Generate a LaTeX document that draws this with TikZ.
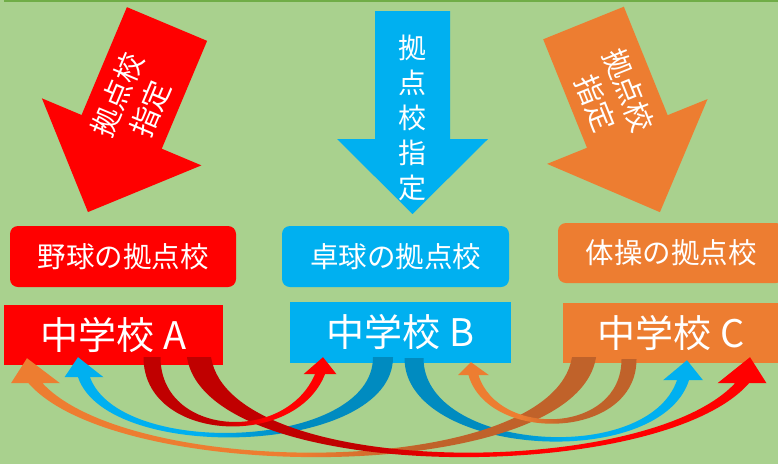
\documentclass[tikz,border=0pt]{standalone}
\usepackage{fontspec}
\setmainfont{Noto Sans CJK JP}
\usepackage{tikz}
\usetikzlibrary{calc}

\definecolor{bg}{HTML}{A9D18E}
\definecolor{topline}{HTML}{70AD47}
\definecolor{redA}{HTML}{FF0000}
\definecolor{redAdark}{HTML}{C00000}
\definecolor{blueB}{HTML}{00B0F0}
\definecolor{blueBdark}{HTML}{008BC0}
\definecolor{orangeC}{HTML}{ED7D31}
\definecolor{orangeCdark}{HTML}{C0622A}

% tail, tail half width, neck, neck half width, control offsets, tip, head half span
\newcommand{\bentpath}[8]{($(#1)-(#2,0)$) .. controls ($(#1)+(#5)-(#2,-3)$) and ($(#3)+(#6)+(#4,3)$) .. ($(#3)+(#4,0)$)
 -- ($(#3)+(#8,0)$) -- (#7) -- ($(#3)-(#8,0)$) -- ($(#3)-(#4,0)$)
 .. controls ($(#3)+(#6)-(#4,3)$) and ($(#1)+(#5)+(#2,-3)$) .. ($(#1)+(#2,0)$) -- cycle}
% left colour, right colour, blend from x to x, path
\newcommand{\bentarrow}[5]{%
\begin{scope}
\clip #5;
\fill[#1] (-10,300) rectangle (#3,470);
\shade[left color=#1,right color=#2] (#3,300) rectangle (#4,470);
\fill[#2] (#4,300) rectangle (790,470);
\end{scope}}
% shaft half width, head half width, shaft length, total length
\newcommand{\pinshape}[4]{(-#1,0) -- (#1,0) -- (#1,#3) -- (#2,#3) -- (0,#4) -- (-#2,#3) -- (-#1,#3) -- cycle}

\begin{document}
\begin{tikzpicture}[x=1pt,y=-1pt,
tagbox/.style={rounded corners=8pt,text=white,minimum width=226pt,minimum height=61pt,
font=\fontsize{28.5}{34}\selectfont},
school/.style={text=white,minimum width=219pt,minimum height=60pt,
font=\fontsize{38}{44}\selectfont},
pintext/.style={text=white,align=center,font=\fontsize{29}{36}\selectfont}]

\useasboundingbox (0,0) rectangle (778,464);
\clip (0,0) rectangle (778,464);
\fill[bg] (0,0) rectangle (778,464);
\fill[topline] (4,0) rectangle (778,2);

% Pins
\fill[redA,shift={(167,24)},rotate=-22.8] \pinshape{43.5}{86.5}{117}{204};
\fill[blueB,shift={(412.5,11)}] \pinshape{37.5}{75.5}{128}{203};
\fill[orangeC,shift={(583.5,23)},rotate=22] \pinshape{43.5}{86.5}{117}{204};
\node[pintext,rotate=67.2] (pinA) at (134,102) {拠点校\\指定};
\node[pintext,font=\fontsize{28}{35}\selectfont] (pinB) at (412.5,117.5) {拠\\点\\校\\指\\定};
\node[pintext,rotate=-68] (pinC) at (612,97) {拠点校\\指定};

% Nodes
\node[tagbox,fill=redA] (labA) at (123,256.5) {野球の拠点校};
\node[tagbox,fill=blueB,minimum width=227pt] (labB) at (395.5,256.5) {卓球の拠点校};
\node[tagbox,fill=orangeC,minimum height=60pt] (labC) at (671,253) {体操の拠点校};

\node[school,fill=redA] (schA) at (113.5,335) {中学校 A};
\node[school,fill=blueB,minimum width=221pt,minimum height=61pt] (schB) at (400.5,332.5) {中学校 B};
\node[school,fill=orangeC,minimum width=216pt] (schC) at (671,333) {中学校 C};

% Connectors
\coordinate (tAB) at ($(schA.south)+(38.5,-8)$);
\coordinate (hAB) at ($(schB.south)+(-77.5,-6)$);
\coordinate (nAB) at ($(hAB)+(-3,17)$);
\coordinate (tAC) at ($(schA.south)+(85.5,-8)$);
\coordinate (hAC) at ($(schC.south)+(79,-6)$);
\coordinate (nAC) at ($(hAC)+(-8,26)$);
\coordinate (tBA) at ($(schB.south)+(-17.5,-6)$);
\coordinate (hBA) at ($(schA.south)+(-35.5,-8)$);
\coordinate (nBA) at ($(hBA)+(6,20)$);
\coordinate (tBC) at ($(schB.south)+(13.5,-5)$);
\coordinate (hBC) at ($(schC.south)+(16,-3)$);
\coordinate (nBC) at ($(hBC)+(-4,20)$);
\coordinate (tCA) at ($(schC.south)+(-87,-6)$);
\coordinate (hCA) at ($(schA.south)+(-86.5,-7)$);
\coordinate (nCA) at ($(hCA)+(8.5,25)$);
\coordinate (tCB) at ($(schC.south)+(-42,-4)$);
\coordinate (hCB) at ($(schB.south)+(70.5,-1)$);
\coordinate (nCB) at ($(hCB)+(2.5,13)$);

\bentarrow{blueB}{blueBdark}{200}{290}{\bentpath{tBA}{-10}{nBA}{-6}{0,95}{30,85}{hBA}{-19.5}}
\bentarrow{blueBdark}{blueB}{500}{570}{\bentpath{tBC}{9.5}{nBC}{6}{0,95}{-30,90}{hBC}{20}}
\bentarrow{orangeC}{orangeCdark}{300}{420}{\bentpath{tCA}{-12}{nCA}{-7}{-20,125}{90,100}{hCA}{-24.5}}
\bentarrow{orangeC}{orangeCdark}{520}{570}{\bentpath{tCB}{-7.5}{nCB}{-5}{0,78}{20,66}{hCB}{-15.5}}
\bentarrow{redAdark}{redA}{360}{470}{\bentpath{tAC}{12}{nAC}{7}{20,125}{-90,100}{hAC}{24.5}}
\bentarrow{redAdark}{redA}{215}{265}{\bentpath{tAB}{8.5}{nAB}{5}{0,82}{-30,73}{hAB}{16.5}}

\end{tikzpicture}
\end{document}
